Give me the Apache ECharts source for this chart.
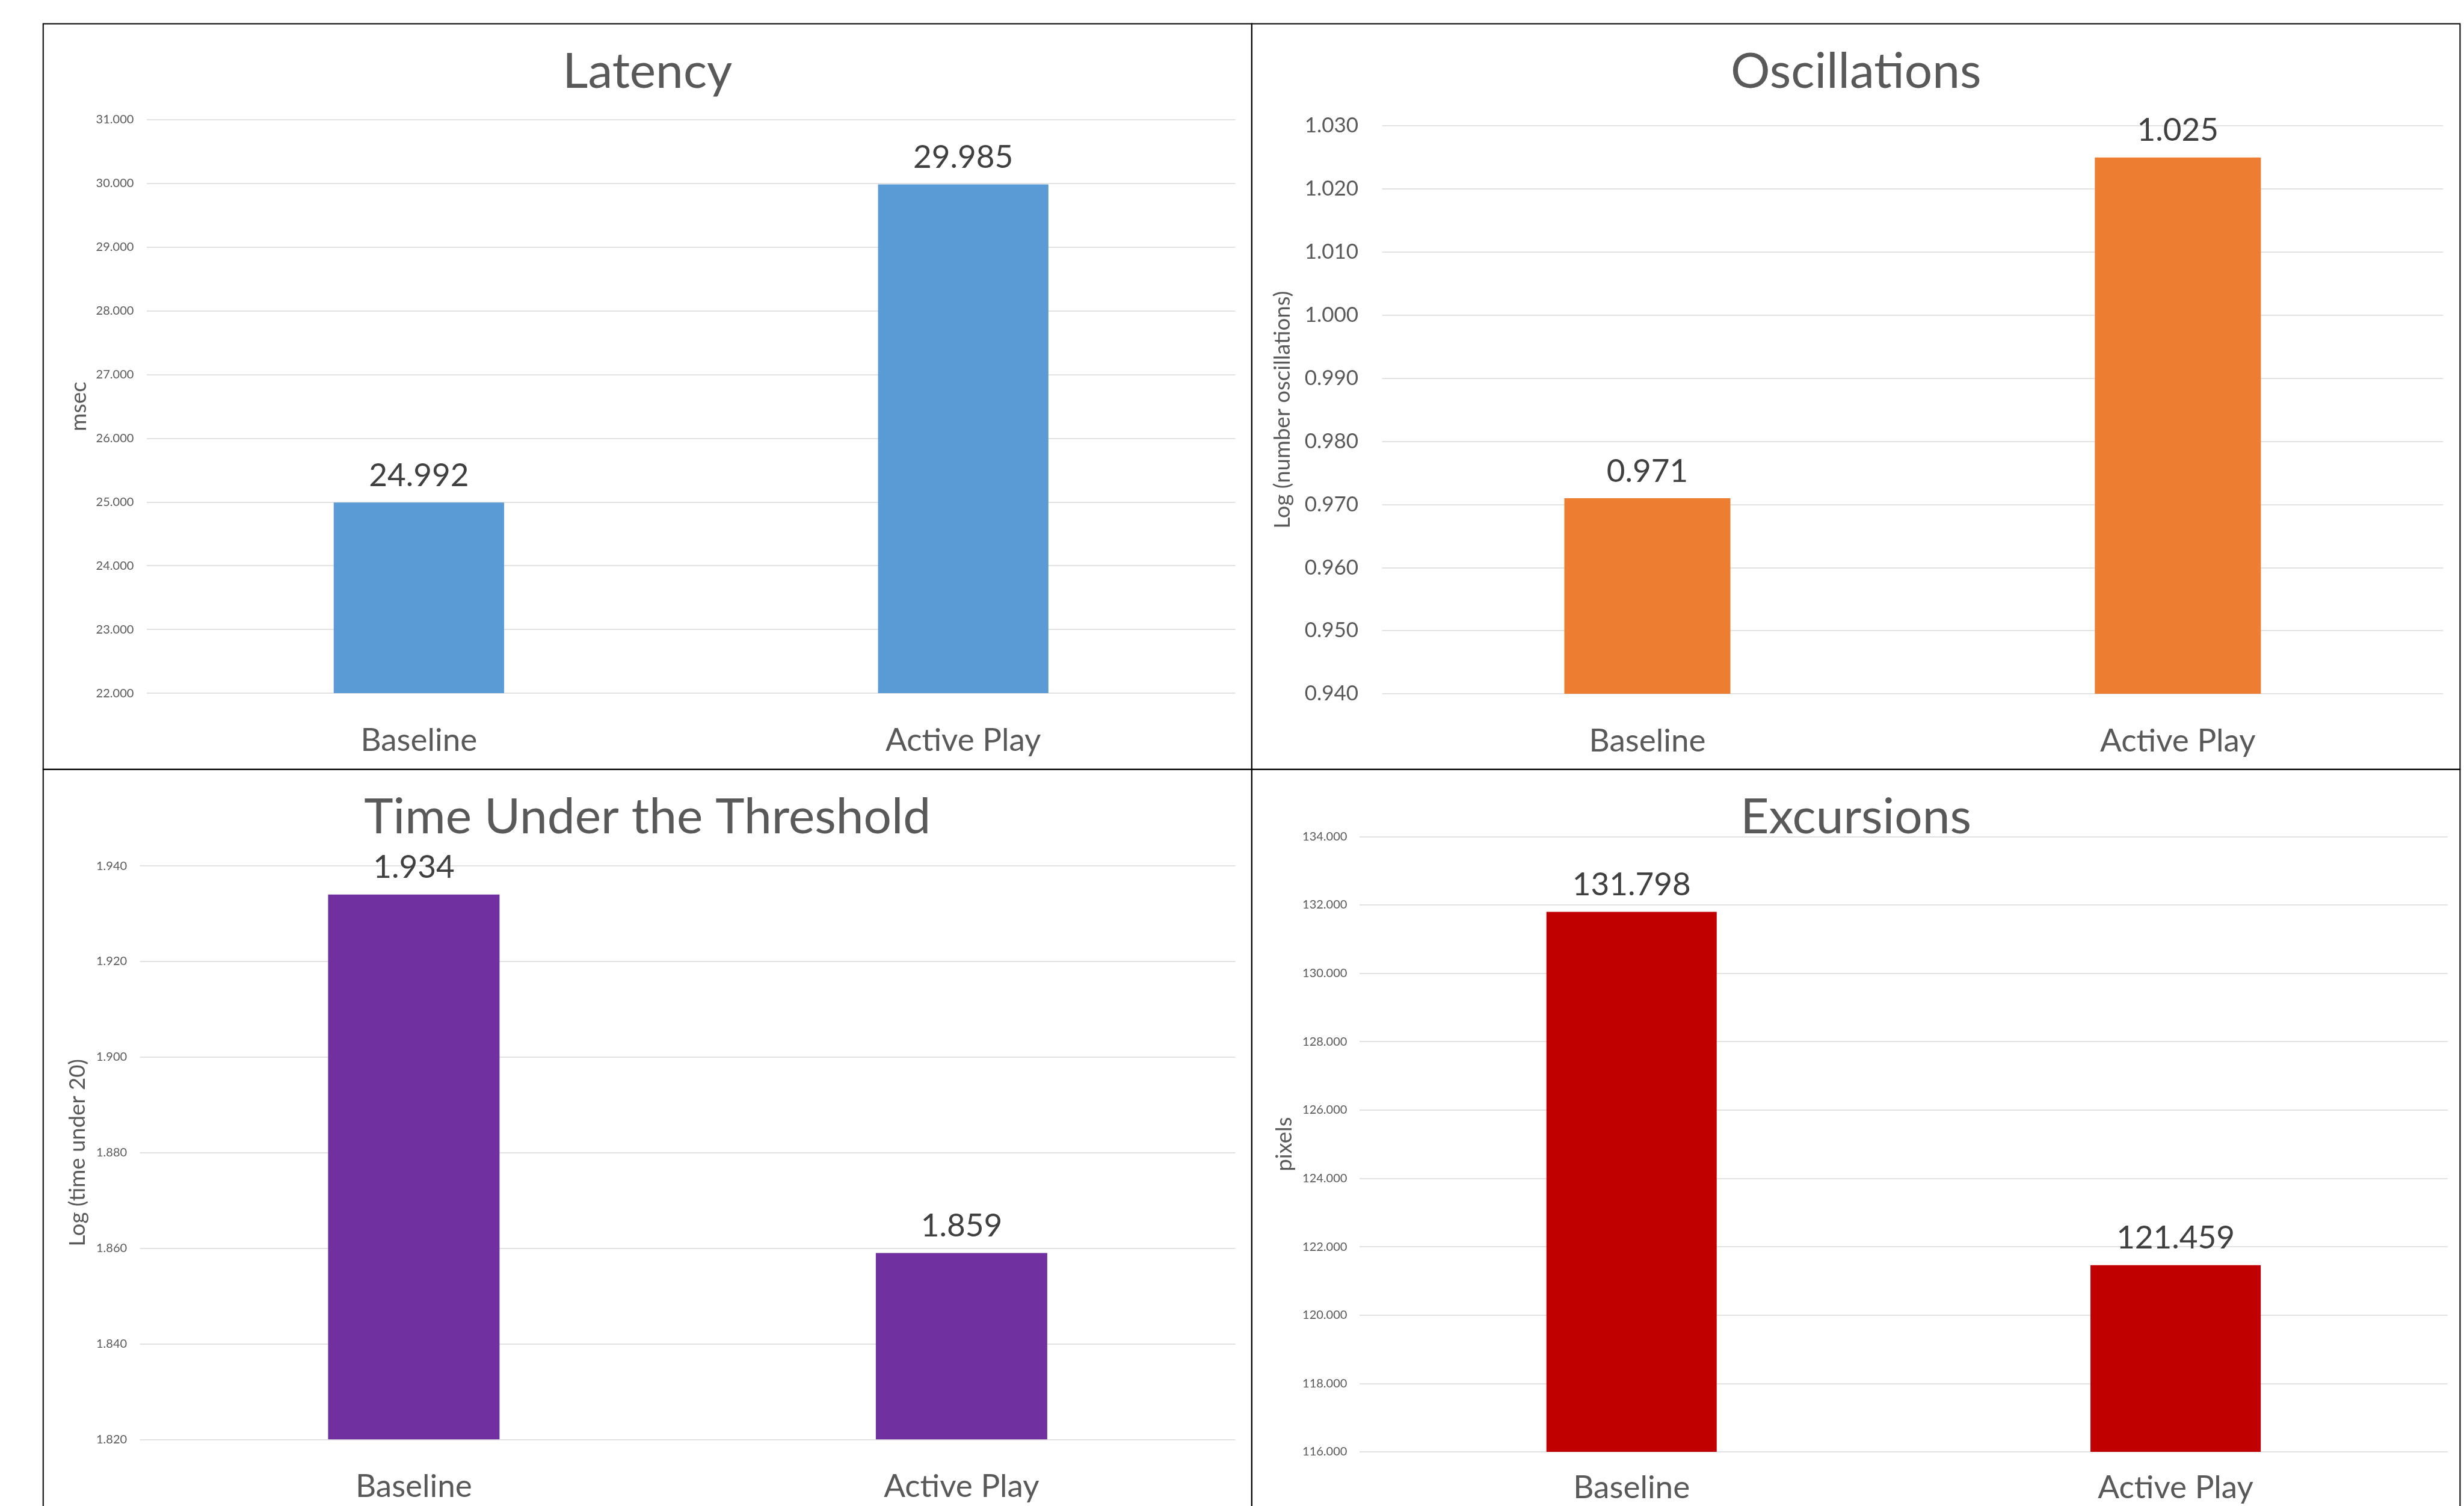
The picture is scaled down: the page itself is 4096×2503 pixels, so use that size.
<!DOCTYPE html>
<html>
<head>
<meta charset="utf-8">
<title>Baseline vs Active Play</title>
<script src="https://cdn.jsdelivr.net/npm/echarts@6/dist/echarts.min.js"></script>
<style>
  html, body { margin: 0; padding: 0; background: #fff; }
  #main { width: 4096px; height: 2503px; }
</style>
</head>
<body>
<div id="main"></div>
<script>
var categories = ['Baseline', 'Active Play'];
var latency = [24.992, 29.985];
var oscillations = [0.971, 1.025];
var timeUnder = [1.934, 1.859];
var excursions = [131.798, 121.459];

var titles = ['Latency', 'Oscillations', 'Time Under the Threshold', 'Excursions'];
var axisNames = ['msec', 'Log (number oscillations)', 'Log (time under 20)', 'pixels'];
var colors = ['#5B9BD5', '#ED7D31', '#7030A0', '#C00000'];

// [min, max, interval] of each value axis
var latencyTicks = [22, 31, 1];
var oscillationTicks = [0.94, 1.03, 0.01];
var timeUnderTicks = [1.82, 1.94, 0.02];
var excursionTicks = [116, 134, 2];

var seriesData = [latency, oscillations, timeUnder, excursions];
var tickSets = [latencyTicks, oscillationTicks, timeUnderTicks, excursionTicks];

// layout is measured on the 4366 wide original, then scaled down
var k = 4096 / 4366;
function p(v) { return v * k; }

var panels = [
  { box: [76.5, 42, 2218, 1363], plot: [260, 212, 2189, 1228], tick: 20, tickGap: 23, nameGap: 100, catGap: 52 },
  { box: [2218, 42, 4359, 1363], plot: [2449, 223, 4329, 1229], tick: 35, tickGap: 42, nameGap: 157, catGap: 52 },
  { box: [76.5, 1363, 2218, 2740], plot: [248, 1534, 2189, 2550], tick: 20, tickGap: 23, nameGap: 90, catGap: 52 },
  { box: [2218, 1363, 4359, 2740], plot: [2409, 1482, 4337, 2572], tick: 20, tickGap: 22, nameGap: 113, catGap: 33 }
];

var font = 'Lato, "Open Sans", sans-serif';
var title = [], grid = [], xAxis = [], yAxis = [], series = [], graphic = [];

panels.forEach(function (pn, i) {
  var b = pn.box, g = pn.plot, t = tickSets[i];
  graphic.push({
    type: 'rect',
    shape: { x: p(b[0]), y: p(b[1]), width: p(b[2] - b[0]), height: p(b[3] - b[1]) },
    style: { fill: 'none', stroke: '#000', lineWidth: 2 },
    z: 100
  });
  title.push({
    text: titles[i],
    left: p((b[0] + b[2]) / 2),
    top: p(b[1]) + 39,
    textAlign: 'center',
    padding: 0,
    textStyle: { fontFamily: font, fontSize: 82, fontWeight: 'normal', color: '#595959' }
  });
  grid.push({
    left: p(g[0]),
    top: p(g[1]),
    width: p(g[2] - g[0]),
    height: p(g[3] - g[1]),
    containLabel: false,
    outerBoundsMode: 'none'
  });
  xAxis.push({
    type: 'category',
    gridIndex: i,
    data: categories,
    axisLine: { show: false },
    axisTick: { show: false },
    axisLabel: { margin: pn.catGap, fontFamily: font, fontSize: 53, color: '#595959' }
  });
  yAxis.push({
    type: 'value',
    gridIndex: i,
    min: t[0],
    max: t[1],
    interval: t[2],
    name: axisNames[i],
    nameLocation: 'middle',
    nameGap: p(pn.nameGap),
    nameTextStyle: { fontFamily: font, fontSize: 36.5, color: '#595959' },
    axisLine: { show: false },
    axisTick: { show: false },
    splitLine: { lineStyle: { color: '#d9d9d9', width: 1.5 } },
    axisLabel: {
      margin: p(pn.tickGap),
      fontFamily: font,
      fontSize: pn.tick,
      color: '#595959',
      formatter: function (v) { return v.toFixed(3); }
    }
  });
  series.push({
    type: 'bar',
    xAxisIndex: i,
    yAxisIndex: i,
    data: seriesData[i],
    barWidth: '31.3%',
    itemStyle: { color: colors[i] },
    label: {
      show: true,
      position: 'top',
      distance: 18,
      fontFamily: font,
      fontSize: 53,
      color: '#404040',
      formatter: function (d) { return d.value.toFixed(3); }
    }
  });
});

var chart = echarts.init(document.getElementById('main'));
chart.setOption({
  backgroundColor: '#ffffff',
  animation: false,
  title: title,
  grid: grid,
  xAxis: xAxis,
  yAxis: yAxis,
  series: series,
  graphic: graphic
});
</script>
</body>
</html>
